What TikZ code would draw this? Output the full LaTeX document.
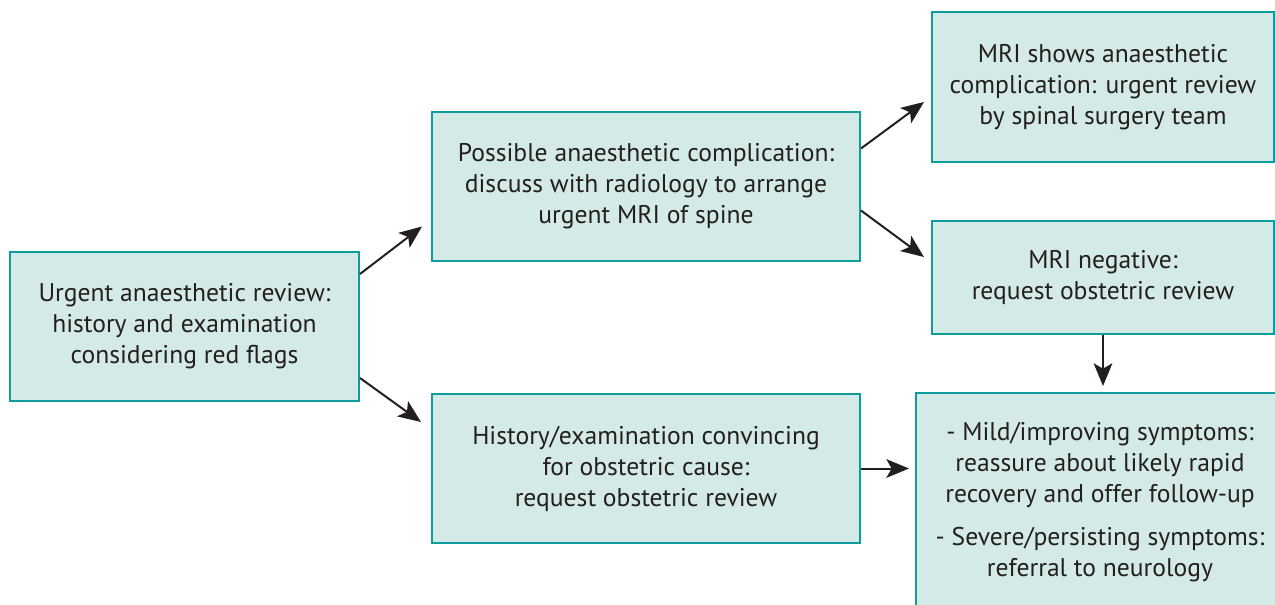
\documentclass[tikz,border=0pt]{standalone}
\usepackage{fontspec}
\setmainfont{PT Sans}
\usetikzlibrary{arrows.meta, calc}
\definecolor{boxfill}{HTML}{D4EAE6}
\definecolor{boxline}{HTML}{0E9C9C}
\definecolor{inkblack}{HTML}{231F20}
\tikzset{
  flowbox/.style={draw=boxline, fill=boxfill, line width=1.5pt, align=center,
    inner sep=0pt, text=inkblack, font=\fontsize{19.2pt}{23.25pt}\selectfont},
  flowarrow/.style={draw=inkblack, line width=1.5pt,
    -{Stealth[length=17pt, width=14pt, inset=4pt]}}
}
\begin{document}
\begin{tikzpicture}[x=0.75pt,y=0.75pt,yscale=-1,xscale=1]
\useasboundingbox (0,0) rectangle (1275,604);

% Text Node
\node [flowbox, minimum width=349*0.75pt, minimum height=149*0.75pt] (rev) at (184.5,326.5)
  {Urgent anaesthetic review:\\history and examination\\considering red flags};
% Text Node
\node [flowbox, minimum width=428*0.75pt, minimum height=149*0.75pt] (mri) at (646,186)
  {Possible anaesthetic complication:\\discuss with radiology to arrange\\urgent MRI of spine};
% Text Node
\node [flowbox, minimum width=428*0.75pt, minimum height=149*0.75pt] (obs) at (646,468.5)
  {History/examination convincing\\for obstetric cause:\\request obstetric review};
% Text Node
\node [flowbox, minimum width=342*0.75pt, minimum height=150*0.75pt] (spine) at (1103,87)
  {MRI shows anaesthetic\\complication: urgent review\\by spinal surgery team};
% Text Node
\node [flowbox, minimum width=342*0.75pt, minimum height=113*0.75pt] (neg) at (1103,277.5)
  {MRI negative:\\request obstetric review};
% Text Node
\node [flowbox, minimum width=368*0.75pt, minimum height=219*0.75pt] (adv) at (1100,502.5)
  {- Mild/improving symptoms:\\reassure about likely rapid\\recovery and offer follow-up\\[9pt]
   - Severe/persisting symptoms:\\referral to neurology};

%Straight Lines
\draw [flowarrow] ($(rev.north east)+(0,23)$) -- ($(mri.north west)+(-9,116)$);
%Straight Lines
\draw [flowarrow] ($(rev.south east)+(0,-24)$) -- ($(obs.north west)+(-10,29)$);
%Straight Lines
\draw [flowarrow] ($(mri.north east)+(0,38)$) -- ($(spine.north west)+(-7,91)$);
%Straight Lines
\draw [flowarrow] ($(mri.north east)+(0,100)$) -- ($(neg.north west)+(-7,37)$);
%Straight Lines
\draw [flowarrow] (obs.east) -- ($(obs.east -| adv.west)+(-6,0)$);
%Straight Lines
\draw [flowarrow] (neg.south) -- ($(neg.south |- adv.north)+(0,-6)$);

\end{tikzpicture}
\end{document}
